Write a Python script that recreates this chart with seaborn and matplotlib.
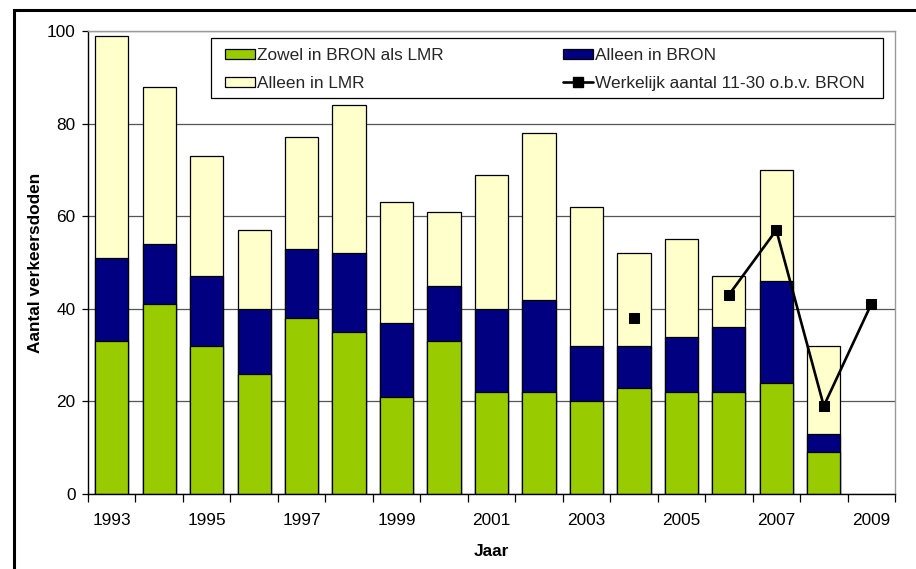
import matplotlib
matplotlib.use("Agg")
import matplotlib.pyplot as plt
import seaborn as sns
import pandas as pd
from matplotlib.patches import Patch, Rectangle
from matplotlib.lines import Line2D
from matplotlib.ticker import FixedLocator

# Verkeersdoden 11-30 jaar per jaar, naar bron
years = list(range(1993, 2009))
beide = [33, 41, 32, 26, 38, 35, 21, 33, 22, 22, 20, 23, 22, 22, 24, 9]
alleen_bron = [18, 13, 15, 14, 15, 17, 16, 12, 18, 20, 12, 9, 12, 14, 22, 4]
alleen_lmr = [48, 34, 26, 17, 24, 32, 26, 16, 29, 36, 30, 20, 21, 11, 24, 19]

# Werkelijk aantal o.b.v. BRON (2005 ontbreekt)
line_years = [2004, 2006, 2007, 2008, 2009]
line_values = [38, 43, 57, 19, 41]
line_segment = [0, 1, 1, 1, 1]

labels = ["Zowel in BRON als LMR", "Alleen in BRON", "Alleen in LMR",
          "Werkelijk aantal 11-30 o.b.v. BRON"]
colors = ["#99CC00", "#000080", "#FFFFCC"]
year_ticks = list(range(1993, 2010, 2))

sns.set_theme(style="white")
plt.rcParams["font.family"] = ["Liberation Sans", "DejaVu Sans"]
FS = 12.4

df = pd.DataFrame({"jaar": years, "beide": beide,
                   "bron": alleen_bron, "lmr": alleen_lmr})
df["tot_bron"] = df["beide"] + df["bron"]
df["totaal"] = df["tot_bron"] + df["lmr"]
df_line = pd.DataFrame({"jaar": line_years, "aantal": line_values,
                        "segment": line_segment})

W, H = 916, 569
fig = plt.figure(figsize=(W / 100, H / 100), dpi=100)
ax = fig.add_axes([88 / W, 1 - 494 / H, (895 - 88) / W, (494 - 31) / H])


def px(x, y):
    """Pixel position in the figure -> axes fraction."""
    return (x - 88) / 807, (494 - y) / 463


bar_kw = dict(native_scale=True, width=0.7, saturation=1, errorbar=None,
              edgecolor="black", linewidth=0.9, ax=ax, zorder=2)
sns.barplot(data=df, x="jaar", y="totaal", color=colors[2], **bar_kw)
sns.barplot(data=df, x="jaar", y="tot_bron", color=colors[1], **bar_kw)
sns.barplot(data=df, x="jaar", y="beide", color=colors[0], **bar_kw)

sns.lineplot(data=df_line, x="jaar", y="aantal", units="segment",
             estimator=None, color="black", linewidth=1.9, marker="s",
             markersize=6.7, markeredgecolor="black", ax=ax, zorder=4,
             legend=False)

ax.set_xlim(1992.5, 2009.5)
ax.set_ylim(0, 100)
ax.set_yticks(range(0, 101, 20))
ax.xaxis.set_major_locator(FixedLocator(year_ticks))
ax.set_xticklabels([str(y) for y in year_ticks])
ax.xaxis.set_minor_locator(FixedLocator([y + 0.5 for y in range(1992, 2010)]))
ax.tick_params(axis="x", which="major", length=0, pad=14, labelsize=FS,
               colors="black")
ax.tick_params(axis="x", which="minor", bottom=True, length=5.5, width=0.9,
               color="black", direction="out")
ax.tick_params(axis="y", left=True, length=4, width=0.9, pad=5,
               labelsize=FS, colors="black", direction="out")

ax.grid(axis="y", color="#555555", linewidth=0.9, zorder=0)
ax.set_axisbelow(True)
for side in ("left", "bottom"):
    ax.spines[side].set_color("black")
    ax.spines[side].set_linewidth(1.0)
for side in ("top", "right"):
    ax.spines[side].set_color("#9a9a9a")
    ax.spines[side].set_linewidth(1.0)

ax.set_xlabel("Jaar", fontsize=FS, fontweight="bold", color="black")
ax.set_ylabel("Aantal verkeersdoden", fontsize=FS, fontweight="bold",
              color="black")
ax.yaxis.set_label_coords(px(43, 0)[0], 0.5)
ax.xaxis.set_label_coords(0.5, px(0, 544)[1])

# Legendakader
x0, y1 = px(211, 98)
x1, y0 = px(883, 38)
ax.add_patch(Rectangle((x0, y1), x1 - x0, y0 - y1, transform=ax.transAxes,
                       facecolor="white", edgecolor="black", linewidth=0.9,
                       zorder=5))

handles = [
    Patch(facecolor=colors[0], edgecolor="black", linewidth=0.9),
    Patch(facecolor=colors[2], edgecolor="black", linewidth=0.9),
    Patch(facecolor=colors[1], edgecolor="black", linewidth=0.9),
    Line2D([], [], color="black", linewidth=1.9, marker="s", markersize=6.5),
]
leg_labels = [labels[0], labels[2], labels[1], labels[3]]
leg = ax.legend(handles, leg_labels, ncol=2, loc="upper left",
                bbox_to_anchor=px(225, 48.5), frameon=False,
                fontsize=FS, handlelength=1.75, handleheight=0.53,
                handletextpad=0.12, labelspacing=0.72, columnspacing=6.9,
                borderpad=0, borderaxespad=0)
leg.set_zorder(6)

# Rand rond de figuur
fig.add_artist(Rectangle((14 / W, -0.05), 1.1, 1 - 10 / H + 0.05,
                         transform=fig.transFigure, fill=False,
                         edgecolor="black", linewidth=2.2))

fig.savefig("out.png", dpi=100)
